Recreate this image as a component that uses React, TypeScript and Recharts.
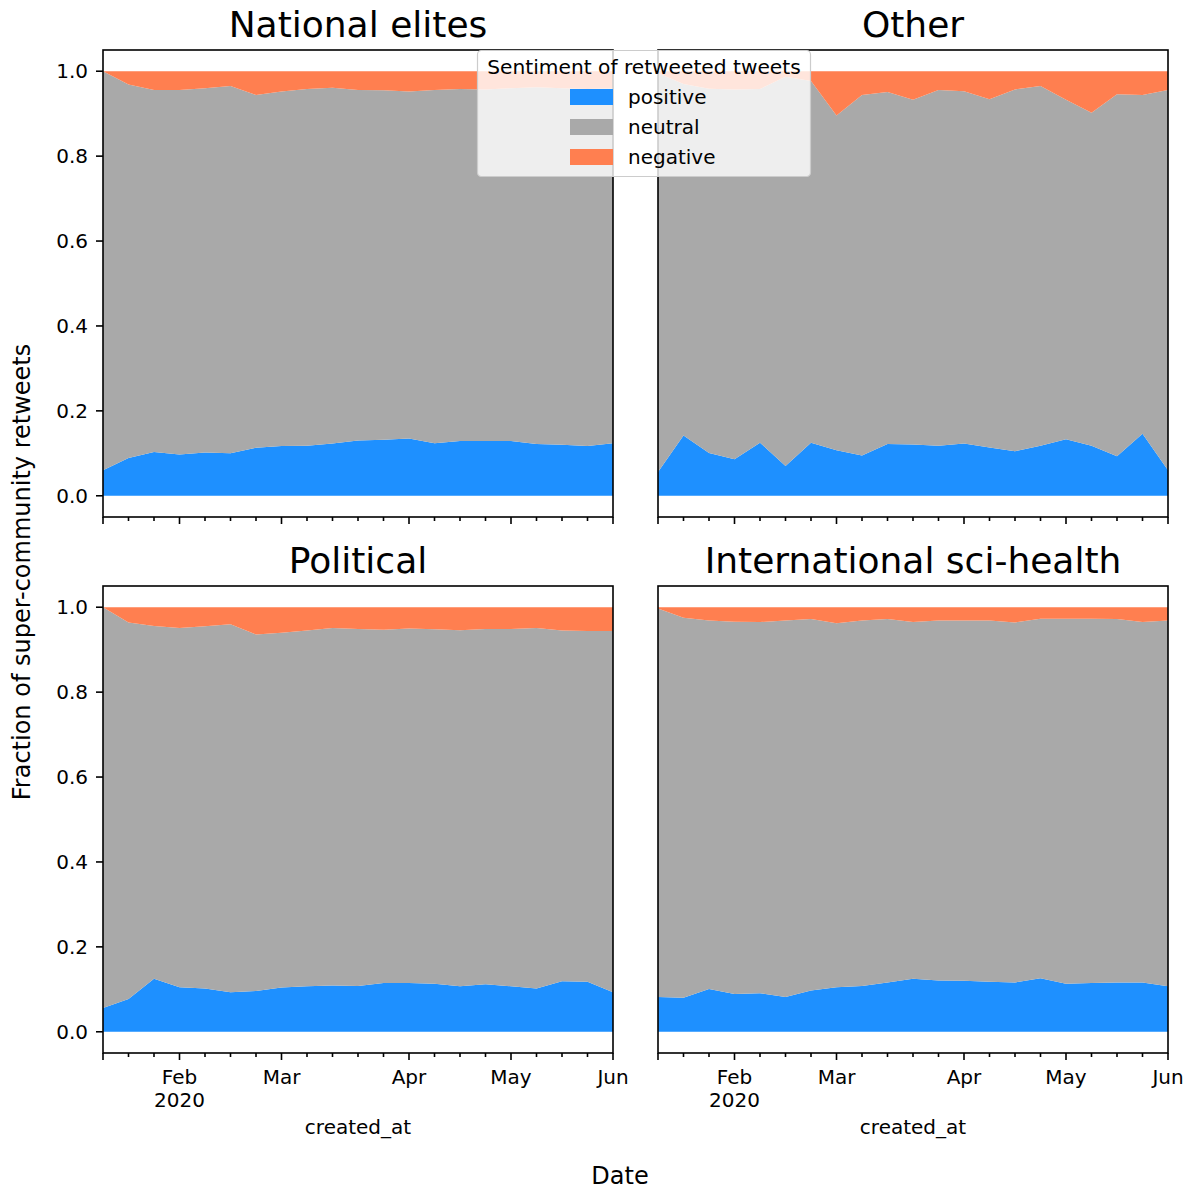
import React from 'react';
import { AreaChart, Area, XAxis, YAxis } from 'recharts';

const FONT = '"DejaVu Sans", sans-serif';

// weekly periods (week start dates)
const WEEKS = [
  '2020-01-13', '2020-01-20', '2020-01-27', '2020-02-03', '2020-02-10', '2020-02-17', '2020-02-24',
  '2020-03-02', '2020-03-09', '2020-03-16', '2020-03-23', '2020-03-30', '2020-04-06', '2020-04-13',
  '2020-04-20', '2020-04-27', '2020-05-04', '2020-05-11', '2020-05-18', '2020-05-25', '2020-06-01',
];

const MAJOR_TICKS = [0, 3, 7, 12, 16, 20];
const MAJOR_LABELS = ['', 'Feb', 'Mar', 'Apr', 'May', 'Jun'];
const YEAR_LABEL = '2020';
const Y_TICKS = [0, 0.2, 0.4, 0.6, 0.8, 1.0];

const SENTIMENTS = ['positive', 'neutral', 'negative'];
const COLORS = ['#1e90ff', '#a9a9a9', '#ff7f50'];

// National elites
const ELITES_POSITIVE = [0.060, 0.089, 0.103, 0.097, 0.102, 0.100, 0.113, 0.117, 0.118, 0.123, 0.130, 0.132, 0.135, 0.124, 0.129, 0.129, 0.129, 0.122, 0.120, 0.117, 0.124];
const ELITES_NEUTRAL = [0.940, 0.880, 0.853, 0.859, 0.858, 0.865, 0.831, 0.835, 0.840, 0.838, 0.826, 0.823, 0.817, 0.832, 0.829, 0.828, 0.831, 0.840, 0.840, 0.841, 0.836];
const ELITES_NEGATIVE = [0.000, 0.031, 0.044, 0.044, 0.040, 0.035, 0.056, 0.048, 0.042, 0.039, 0.044, 0.045, 0.048, 0.044, 0.042, 0.043, 0.040, 0.038, 0.040, 0.042, 0.040];

// Other
const OTHER_POSITIVE = [0.056, 0.142, 0.101, 0.086, 0.125, 0.070, 0.125, 0.107, 0.095, 0.122, 0.121, 0.118, 0.123, 0.114, 0.105, 0.118, 0.133, 0.118, 0.093, 0.146, 0.060];
const OTHER_NEUTRAL = [0.939, 0.828, 0.858, 0.871, 0.833, 0.917, 0.852, 0.789, 0.849, 0.829, 0.812, 0.838, 0.830, 0.820, 0.852, 0.847, 0.800, 0.784, 0.853, 0.798, 0.896];
const OTHER_NEGATIVE = [0.005, 0.030, 0.041, 0.043, 0.042, 0.013, 0.023, 0.104, 0.056, 0.049, 0.067, 0.044, 0.047, 0.066, 0.043, 0.035, 0.067, 0.098, 0.054, 0.056, 0.044];

// Political
const POLITICAL_POSITIVE = [0.056, 0.077, 0.125, 0.105, 0.102, 0.093, 0.096, 0.104, 0.107, 0.109, 0.108, 0.115, 0.115, 0.113, 0.107, 0.112, 0.107, 0.102, 0.119, 0.118, 0.093];
const POLITICAL_NEUTRAL = [0.944, 0.887, 0.831, 0.846, 0.853, 0.867, 0.840, 0.836, 0.838, 0.842, 0.841, 0.832, 0.835, 0.835, 0.839, 0.837, 0.842, 0.849, 0.826, 0.826, 0.851];
const POLITICAL_NEGATIVE = [0.000, 0.036, 0.044, 0.049, 0.045, 0.040, 0.064, 0.060, 0.055, 0.049, 0.051, 0.053, 0.050, 0.052, 0.054, 0.051, 0.051, 0.049, 0.055, 0.056, 0.056];

// International sci-health
const SCIHEALTH_POSITIVE = [0.082, 0.080, 0.101, 0.089, 0.091, 0.082, 0.097, 0.105, 0.108, 0.116, 0.125, 0.121, 0.120, 0.118, 0.116, 0.126, 0.113, 0.115, 0.116, 0.116, 0.107];
const SCIHEALTH_NEUTRAL = [0.915, 0.895, 0.868, 0.877, 0.874, 0.887, 0.875, 0.857, 0.861, 0.856, 0.840, 0.848, 0.849, 0.851, 0.848, 0.847, 0.860, 0.858, 0.856, 0.849, 0.862];
const SCIHEALTH_NEGATIVE = [0.003, 0.025, 0.031, 0.034, 0.035, 0.031, 0.028, 0.038, 0.031, 0.028, 0.035, 0.031, 0.031, 0.031, 0.036, 0.027, 0.027, 0.027, 0.028, 0.035, 0.031];

const PLOT_W = 510;
const PLOT_H = 467;

const PANELS = [
  { title: 'National elites', x: 103, y: 50, left: true, bottom: false, series: [ELITES_POSITIVE, ELITES_NEUTRAL, ELITES_NEGATIVE] },
  { title: 'Other', x: 658, y: 50, left: false, bottom: false, series: [OTHER_POSITIVE, OTHER_NEUTRAL, OTHER_NEGATIVE] },
  { title: 'Political', x: 103, y: 586, left: true, bottom: true, series: [POLITICAL_POSITIVE, POLITICAL_NEUTRAL, POLITICAL_NEGATIVE] },
  { title: 'International sci-health', x: 658, y: 586, left: false, bottom: true, series: [SCIHEALTH_POSITIVE, SCIHEALTH_NEUTRAL, SCIHEALTH_NEGATIVE] },
];

function WeekTick(props: any) {
  const { x, y, payload, showLabels } = props;
  const idx = MAJOR_TICKS.indexOf(payload.value);
  const major = idx >= 0;
  return (
    <g>
      <line x1={x} y1={y} x2={x} y2={y + (major ? 7 : 4)} stroke="#000" strokeWidth={1.6} />
      {showLabels && major && MAJOR_LABELS[idx] && (
        <text x={x} y={y + 31} textAnchor="middle" fontSize={20} fontFamily={FONT} fill="#000">
          {MAJOR_LABELS[idx]}
        </text>
      )}
      {showLabels && idx === 1 && (
        <text x={x} y={y + 54} textAnchor="middle" fontSize={20} fontFamily={FONT} fill="#000">
          {YEAR_LABEL}
        </text>
      )}
    </g>
  );
}

function Panel({ panel }: { panel: (typeof PANELS)[number] }) {
  const data = WEEKS.map((date, i) => ({
    week: i,
    date,
    positive: panel.series[0][i],
    neutral: panel.series[1][i],
    negative: panel.series[2][i],
  }));
  return (
    <div style={{ position: 'absolute', left: panel.x - 100, top: panel.y - 10 }}>
      <AreaChart width={630} height={557} data={data} margin={{ top: 10, right: 20, left: 0, bottom: 0 }}>
        <XAxis
          type="number"
          dataKey="week"
          domain={[0, 20]}
          ticks={WEEKS.map((_, i) => i)}
          interval={0}
          height={80}
          axisLine={false}
          tickLine={false}
          tickSize={0}
          tickMargin={0}
          tick={(p: any) => <WeekTick {...p} showLabels={panel.bottom} />}
        />
        <YAxis
          type="number"
          domain={[-0.05, 1.05]}
          ticks={Y_TICKS}
          interval={0}
          width={100}
          allowDataOverflow
          axisLine={false}
          tickSize={7}
          tickMargin={8}
          tickLine={{ stroke: '#000', strokeWidth: 1.6 }}
          tickFormatter={(v: number) => v.toFixed(1)}
          tick={panel.left ? { fill: '#000', fontSize: 20, fontFamily: FONT } : false}
        />
        {SENTIMENTS.map((s, k) => (
          <Area
            key={s}
            type="linear"
            dataKey={s}
            stackId="s"
            fill={COLORS[k]}
            fillOpacity={1}
            stroke="none"
            dot={false}
            activeDot={false}
            isAnimationActive={false}
          />
        ))}
      </AreaChart>
    </div>
  );
}

export default function App() {
  return (
    <div style={{ position: 'absolute', left: 0, top: 0, width: 1196, height: 1191, background: '#fff', fontFamily: FONT }}>
      {PANELS.map((p) => (
        <Panel key={p.title} panel={p} />
      ))}
      <svg width={1196} height={1191} style={{ position: 'absolute', left: 0, top: 0, pointerEvents: 'none', zIndex: 10 }}>
        {PANELS.map((p) => (
          <g key={p.title}>
            <rect x={p.x} y={p.y} width={PLOT_W} height={PLOT_H} fill="none" stroke="#000" strokeWidth={1.6} />
            <text x={p.x + PLOT_W / 2} y={p.y - 13} textAnchor="middle" fontSize={36} fontFamily={FONT} fill="#000">
              {p.title}
            </text>
            {p.bottom && (
              <text x={p.x + PLOT_W / 2} y={p.y + PLOT_H + 81} textAnchor="middle" fontSize={20} fontFamily={FONT} fill="#000">
                created_at
              </text>
            )}
          </g>
        ))}
        <text x={620} y={1184} textAnchor="middle" fontSize={24} fontFamily={FONT} fill="#000">
          Date
        </text>
        <text
          x={30}
          y={572}
          textAnchor="middle"
          fontSize={24}
          fontFamily={FONT}
          fill="#000"
          transform="rotate(-90 30 572)"
        >
          Fraction of super-community retweets
        </text>
        {/* legend */}
        <rect x={477.5} y={50.5} width={333} height={126} rx={4} fill="#fff" fillOpacity={0.8} stroke="#cccccc" strokeWidth={1.2} />
        <text x={644} y={74} textAnchor="middle" fontSize={20.2} fontFamily={FONT} fill="#000">
          Sentiment of retweeted tweets
        </text>
        {SENTIMENTS.map((s, k) => (
          <g key={s}>
            <rect x={570} y={89 + k * 30} width={43} height={16} fill={COLORS[k]} />
            <text x={628} y={104 + k * 30} fontSize={20} fontFamily={FONT} fill="#000">
              {s}
            </text>
          </g>
        ))}
      </svg>
    </div>
  );
}
